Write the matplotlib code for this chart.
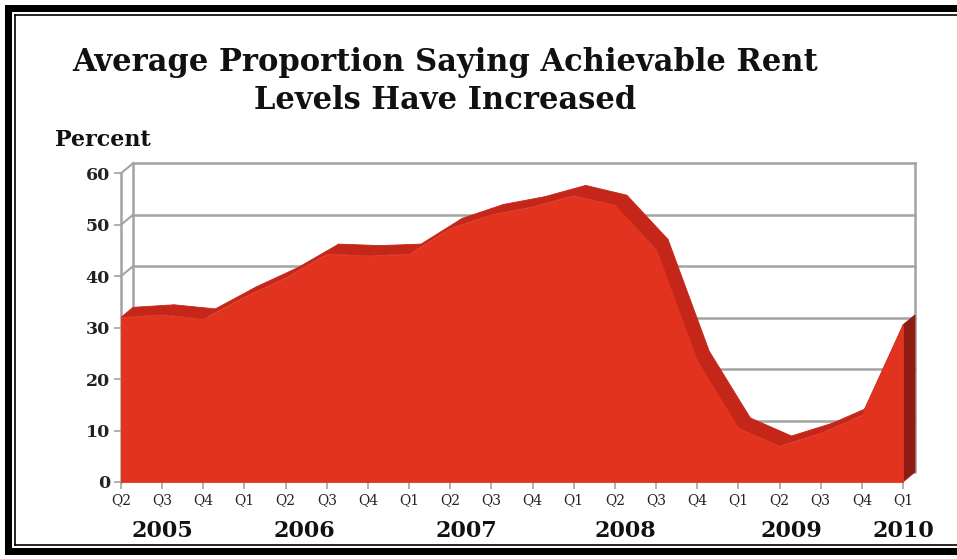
import matplotlib
matplotlib.use("Agg")
import matplotlib.pyplot as plt
from matplotlib.patches import Polygon, Rectangle
from matplotlib.lines import Line2D

# Quarterly series, Q2 2005 .. Q1 2010
quarters = ["Q2", "Q3", "Q4", "Q1", "Q2", "Q3", "Q4", "Q1", "Q2", "Q3",
            "Q4", "Q1", "Q2", "Q3", "Q4", "Q1", "Q2", "Q3", "Q4", "Q1"]
percent = [32.0, 32.5, 31.7, 36.0, 39.7, 44.3, 44.0, 44.3, 49.3, 52.0,
           53.5, 55.7, 53.8, 45.2, 23.5, 10.5, 7.0, 9.5, 13.0, 30.5]
years = ["2005", "2006", "2007", "2008", "2009", "2010"]
year_pos = [1.0, 4.45, 8.4, 12.25, 16.3, 19.0]
yticks = [0, 10, 20, 30, 40, 50, 60]

W, H = 957, 559
fig = plt.figure(figsize=(W / 100, H / 100), dpi=100)
fig.patch.set_facecolor("white")

serif = ["DejaVu Serif", "Liberation Serif"]

# front plane of the plot in pixels
x0, x1 = 121, 903
y0, y1 = 482, 173.3
ax = fig.add_axes([x0 / W, (H - y0) / H, (x1 - x0) / W, (y0 - y1) / H])
n = len(percent)
ax.set_xlim(0, n - 1)
ax.set_ylim(0, 60)
ax.set_facecolor("none")
for s in ax.spines.values():
    s.set_visible(False)

# depth of the 3-D effect in data units
px_x = (x1 - x0) / (n - 1)
px_y = (y0 - y1) / 60
dx = 12 / px_x
dy = 10 / px_y

grid_c = "#a3a3a3"
xs = list(range(n))

# back wall and side wall
for v in yticks[1:]:
    ax.add_line(Line2D([dx, n - 1 + dx], [v + dy, v + dy], color=grid_c, lw=1.8,
                       clip_on=False, zorder=1))
    ax.add_line(Line2D([0, dx], [v, v + dy], color=grid_c, lw=1.5,
                       clip_on=False, zorder=1))
ax.add_line(Line2D([dx, dx], [dy, 60 + dy], color=grid_c, lw=1.8, clip_on=False, zorder=1))
ax.add_line(Line2D([n - 1 + dx, n - 1 + dx], [dy, 60 + dy], color=grid_c, lw=1.8,
                   clip_on=False, zorder=1))
ax.add_line(Line2D([0, 0], [0, 60], color=grid_c, lw=1.8, clip_on=False, zorder=1))

front_c = "#e2331f"
top_c = "#c4261a"
side_c = "#8f1c12"

# top surface of the ribbon
for i in range(n - 1):
    pts = [(xs[i], percent[i]), (xs[i + 1], percent[i + 1]),
           (xs[i + 1] + dx, percent[i + 1] + dy), (xs[i] + dx, percent[i] + dy)]
    ax.add_patch(Polygon(pts, closed=True, facecolor=top_c, edgecolor=top_c, lw=0.6,
                         clip_on=False, zorder=2))

# right end face
ax.add_patch(Polygon([(n - 1, 0), (n - 1, percent[-1]), (n - 1 + dx, percent[-1] + dy),
                      (n - 1 + dx, dy)], closed=True, facecolor=side_c, edgecolor=side_c,
                     lw=0.6, clip_on=False, zorder=2))

# front face
ax.fill_between(xs, percent, 0, facecolor=front_c, edgecolor=front_c, lw=0.6,
                zorder=3, clip_on=False)

# ticks
ax.set_yticks(yticks)
ax.set_yticklabels([str(v) for v in yticks], fontfamily=serif, fontsize=12.5,
                   fontweight="bold", color="#222222")
ax.tick_params(axis="y", length=5, width=1.2, color=grid_c, pad=3)
ax.set_xticks(xs)
ax.set_xticklabels(quarters, fontfamily=serif, fontsize=10, color="#222222")
ax.tick_params(axis="x", length=5, width=1.2, color=grid_c, pad=3)

for lab, p in zip(years, year_pos):
    ax.text(p, -9.5, lab, ha="center", va="center", fontfamily=serif, fontsize=16,
            fontweight="bold", color="#111111", clip_on=False)

# titles
fig.text(445 / W, 1 - 63 / H, "Average Proportion Saying Achievable Rent",
         ha="center", va="center", fontfamily=serif, fontsize=22, fontweight="bold",
         color="#111111")
fig.text(445 / W, 1 - 100 / H, "Levels Have Increased",
         ha="center", va="center", fontfamily=serif, fontsize=22, fontweight="bold",
         color="#111111")
fig.text(55 / W, 1 - 140 / H, "Percent", ha="left", va="center", fontfamily=serif,
         fontsize=16, fontweight="bold", color="#111111")

# frame
bg = fig.add_axes([0, 0, 1, 1], zorder=-5)
bg.set_xlim(0, W)
bg.set_ylim(H, 0)
bg.axis("off")
bg.add_patch(Rectangle((5, 5), W + 20, 7, facecolor="black", edgecolor="none"))
bg.add_patch(Rectangle((5, 5), 7, H - 10, facecolor="black", edgecolor="none"))
bg.add_patch(Rectangle((5, 548), W + 20, 7, facecolor="black", edgecolor="none"))
bg.add_line(Line2D([15, W], [15, 15], color="black", lw=1.2))
bg.add_line(Line2D([15, 15], [15, 545], color="black", lw=1.2))
bg.add_line(Line2D([15, W], [545, 545], color="black", lw=1.2))

fig.savefig("out.png", dpi=100)
